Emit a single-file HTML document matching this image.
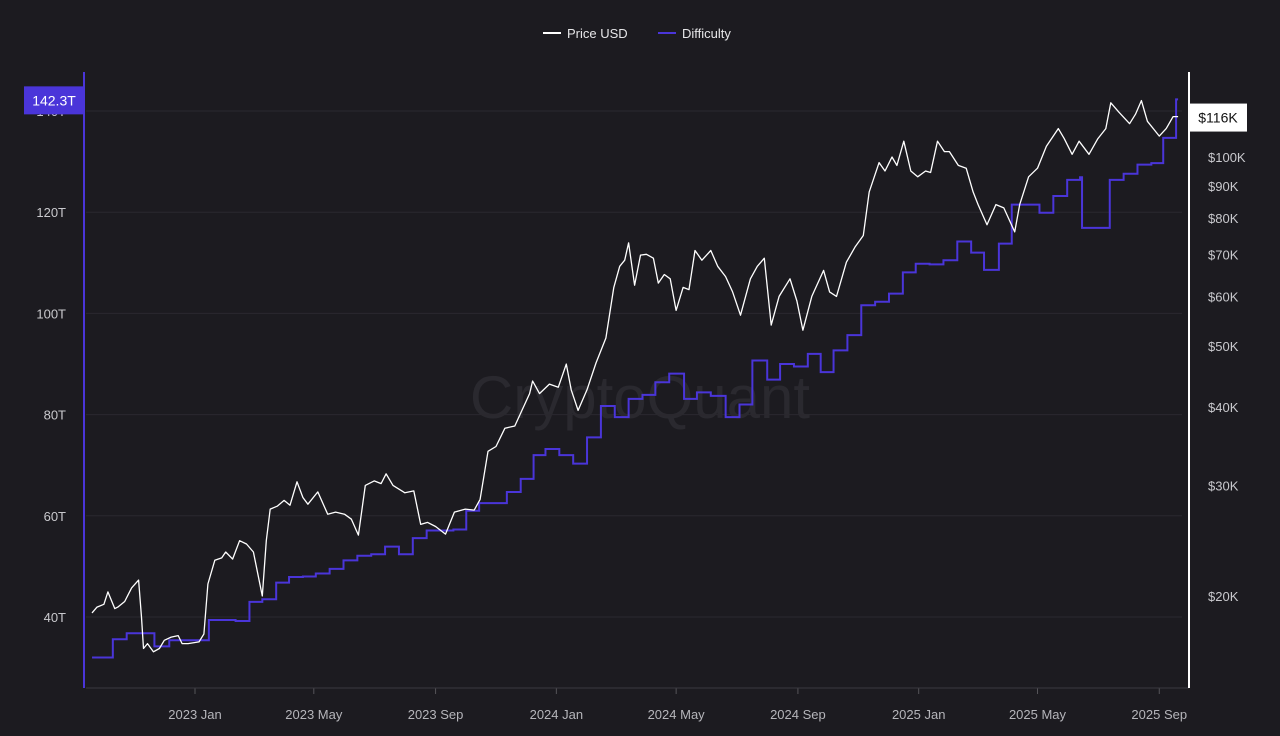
<!DOCTYPE html>
<html><head><meta charset="utf-8"><style>
html,body{margin:0;padding:0;background:#1c1b20;}
svg{display:block;font-family:"Liberation Sans",sans-serif;}
</style></head><body>
<svg id="chart" width="1280" height="736" viewBox="0 0 1280 736">
<rect width="1280" height="736" fill="#1c1b20"/>
<g>
<g><line x1="543" y1="33" x2="561" y2="33" stroke="#fff" stroke-width="2"/><text x="567" y="38" fill="#e6e6e8" font-size="13">Price USD</text></g>
<g><line x1="658" y1="33" x2="676" y2="33" stroke="#4a35d9" stroke-width="2"/><text x="682" y="38" fill="#e6e6e8" font-size="13">Difficulty</text></g>
</g>
<text x="640" y="418" text-anchor="middle" font-size="60" fill="#2a292f">CryptoQuant</text>
<g id="grid"></g><g id="axes"></g><g id="series"></g>
</svg>
<script>
const priceDates=["2022-09-19","2022-09-24","2022-10-01","2022-10-05","2022-10-12","2022-10-15","2022-10-22","2022-10-29","2022-11-05","2022-11-08","2022-11-10","2022-11-14","2022-11-20","2022-11-26","2022-12-01","2022-12-08","2022-12-15","2022-12-19","2022-12-25","2023-01-05","2023-01-10","2023-01-14","2023-01-21","2023-01-28","2023-02-01","2023-02-08","2023-02-15","2023-02-22","2023-03-01","2023-03-10","2023-03-14","2023-03-18","2023-03-25","2023-04-01","2023-04-07","2023-04-14","2023-04-20","2023-04-25","2023-05-05","2023-05-15","2023-05-23","2023-06-01","2023-06-08","2023-06-15","2023-06-22","2023-07-01","2023-07-08","2023-07-13","2023-07-20","2023-08-01","2023-08-10","2023-08-17","2023-08-24","2023-09-01","2023-09-11","2023-09-20","2023-10-01","2023-10-10","2023-10-16","2023-10-24","2023-11-01","2023-11-10","2023-11-20","2023-12-05","2023-12-08","2023-12-15","2023-12-25","2024-01-03","2024-01-11","2024-01-16","2024-01-23","2024-02-01","2024-02-10","2024-02-20","2024-02-28","2024-03-05","2024-03-10","2024-03-14","2024-03-20","2024-03-26","2024-04-01","2024-04-08","2024-04-13","2024-04-19","2024-04-25","2024-05-01","2024-05-08","2024-05-14","2024-05-20","2024-05-27","2024-06-05","2024-06-12","2024-06-20","2024-06-27","2024-07-05","2024-07-15","2024-07-22","2024-07-29","2024-08-05","2024-08-13","2024-08-24","2024-08-31","2024-09-06","2024-09-15","2024-09-27","2024-10-03","2024-10-10","2024-10-20","2024-10-29","2024-11-06","2024-11-12","2024-11-22","2024-11-28","2024-12-05","2024-12-10","2024-12-17","2024-12-24","2024-12-31","2025-01-08","2025-01-13","2025-01-20","2025-01-27","2025-02-01","2025-02-10","2025-02-18","2025-02-25","2025-03-02","2025-03-11","2025-03-20","2025-03-28","2025-04-08","2025-04-13","2025-04-22","2025-05-01","2025-05-10","2025-05-22","2025-05-28","2025-06-05","2025-06-12","2025-06-22","2025-07-01","2025-07-09","2025-07-14","2025-07-22","2025-08-02","2025-08-08","2025-08-14","2025-08-20","2025-09-01","2025-09-08","2025-09-15","2025-09-20"];
const priceValues=[18800,19200,19400,20300,19100,19200,19600,20600,21200,18500,16500,16800,16300,16500,17000,17200,17300,16800,16800,16900,17400,20900,22800,23000,23500,22900,24500,24200,23500,20000,24500,27500,27800,28400,27900,30400,28700,28000,29300,27000,27200,27000,26500,25000,30000,30500,30200,31300,30000,29200,29400,26000,26200,25800,25100,27200,27500,27400,28500,34000,34600,37000,37300,42000,44000,42000,43500,43000,46800,42600,39500,42600,47000,51500,62000,67000,68500,73000,62500,69800,70000,69000,63000,65000,64000,57000,62000,61500,71000,68500,71000,67000,64500,61000,56000,64000,67000,69000,54000,60000,64000,59000,53000,60000,66000,61000,60000,68000,72000,75000,88000,98000,95000,100000,97000,106000,95000,93000,95000,94500,106000,102000,102000,97000,96000,88000,84000,78000,84000,83000,76000,84000,93000,96000,104000,111000,107000,101000,106000,101000,107000,111000,122000,118000,113000,117000,123000,114000,108000,111000,116000,116000];
const diffDates=["2022-09-19","2022-10-10","2022-10-24","2022-11-21","2022-12-06","2023-01-02","2023-01-15","2023-02-11","2023-02-25","2023-03-10","2023-03-24","2023-04-06","2023-04-20","2023-05-03","2023-05-17","2023-05-31","2023-06-14","2023-06-28","2023-07-12","2023-07-26","2023-08-09","2023-08-23","2023-09-19","2023-10-02","2023-10-15","2023-11-12","2023-11-26","2023-12-09","2023-12-21","2024-01-04","2024-01-18","2024-02-01","2024-02-15","2024-02-29","2024-03-14","2024-03-28","2024-04-10","2024-04-24","2024-05-09","2024-05-22","2024-06-05","2024-06-20","2024-07-04","2024-07-17","2024-08-01","2024-08-14","2024-08-28","2024-09-11","2024-09-24","2024-10-07","2024-10-21","2024-11-04","2024-11-18","2024-12-02","2024-12-16","2024-12-29","2025-01-12","2025-01-26","2025-02-09","2025-02-23","2025-03-08","2025-03-23","2025-04-05","2025-05-03","2025-05-17","2025-05-31","2025-06-13","2025-06-15","2025-07-13","2025-07-27","2025-08-10","2025-08-24","2025-09-05","2025-09-18"];
const diffValues=[32.0,35.6,36.8,34.2,35.4,35.4,39.4,39.2,43.0,43.5,46.8,47.9,48.0,48.6,49.5,51.2,52.1,52.4,53.9,52.4,55.6,57.1,57.3,61.0,62.5,64.7,67.3,72.0,73.2,72.0,70.3,75.5,81.7,79.5,83.1,83.9,86.4,88.1,83.1,84.4,83.7,79.5,82.0,90.7,86.9,90.0,89.5,92.0,88.4,92.7,95.7,101.6,102.3,103.9,108.1,109.8,109.7,110.5,114.2,112.0,108.6,113.8,121.5,119.9,123.2,126.4,126.9,116.9,126.4,127.6,129.4,129.7,134.7,142.3];
const diffTicks=[40,60,80,100,120,140];
const priceTicks=[20000,30000,40000,50000,60000,70000,80000,90000,100000];
const xTickLabels=["2023 Jan","2023 May","2023 Sep","2024 Jan","2024 May","2024 Sep","2025 Jan","2025 May","2025 Sep"];
const xTickDates=["2023-01-01","2023-05-01","2023-09-01","2024-01-01","2024-05-01","2024-09-01","2025-01-01","2025-05-01","2025-09-01"];
const endDate="2025-09-20";

const NS="http://www.w3.org/2000/svg";
const t0=Date.UTC(2023,0,1);
function xS(d){const p=d.split('-');return 195+((Date.UTC(+p[0],p[1]-1,+p[2])-t0)/864e5)*0.99;}
function yD(v){return 617-(v-40)*5.06;}
function yP(v){return 596-(Math.log10(v)-Math.log10(20000))*628;}
function mk(tag,attrs,parent){const e=document.createElementNS(NS,tag);for(const k in attrs)e.setAttribute(k,attrs[k]);parent.appendChild(e);return e;}
const grid=document.getElementById('grid'),axes=document.getElementById('axes'),series=document.getElementById('series');

diffTicks.forEach(v=>{
  const l=mk('line',{x1:86,x2:1182,y1:yD(v),y2:yD(v),stroke:'#2a292f','stroke-width':1},grid);
  
  
  const t=mk('text',{x:66,y:yD(v)+5,'text-anchor':'end',fill:'#c9c9cd','font-size':13},axes);
  t.textContent=v+'T';
  
  
});
priceTicks.forEach(v=>{
  const t=mk('text',{x:1208,y:yP(v)+5,fill:'#c9c9cd','font-size':13},axes);
  t.textContent='$'+(v/1000)+'K';
  
  
});
xTickDates.forEach((d,i)=>{
  const x=xS(d);
  const tk=mk('line',{x1:x,x2:x,y1:688,y2:694,stroke:'#555459'},axes);
  
  
  const t=mk('text',{x:x,y:719,'text-anchor':'middle',fill:'#b5b5ba','font-size':13},axes);
  t.textContent=xTickLabels[i];
  
  
});
const xb=mk('line',{x1:86,x2:1189,y1:688,y2:688,stroke:'#3a393f'},axes);


const la=mk('line',{x1:84,x2:84,y1:72,y2:688,stroke:'#4a35d9','stroke-width':2},axes);


const ra=mk('line',{x1:1189,x2:1189,y1:72,y2:688,stroke:'#ffffff','stroke-width':2},axes);



let dp='';
diffDates.forEach((d,i)=>{const x=xS(d),y=yD(diffValues[i]);
  if(i===0)dp='M'+x+' '+y;else dp+=' H'+x+' V'+y;});
dp+=' H'+xS(endDate)+' V'+yD(diffValues[diffValues.length-1]);
const dl=mk('path',{d:dp,fill:'none',stroke:'#4a35d9','stroke-width':2},series);



let pp='';
priceDates.forEach((d,i)=>{pp+=(i?' L':'M')+xS(d).toFixed(1)+' '+yP(priceValues[i]).toFixed(1);});
const pl=mk('path',{d:pp,fill:'none',stroke:'#ffffff','stroke-width':1.3,'stroke-linejoin':'round'},series);



const ld=diffValues[diffValues.length-1];
const bg1=mk('rect',{x:24,y:yD(ld)-13,width:60,height:28,fill:'#4a35d9'},axes);


const bt1=mk('text',{x:54,y:yD(ld)+6,'text-anchor':'middle',fill:'#fff','font-size':14},axes);
bt1.textContent=ld+'T';


const lp=priceValues[priceValues.length-1];
const bg2=mk('rect',{x:1190,y:yP(lp)-13,width:57,height:28,fill:'#ffffff'},axes);


const bt2=mk('text',{x:1218,y:yP(lp)+6,'text-anchor':'middle',fill:'#111','font-size':14},axes);
bt2.textContent='$'+Math.round(lp/1000)+'K';


</script>
</body></html>
